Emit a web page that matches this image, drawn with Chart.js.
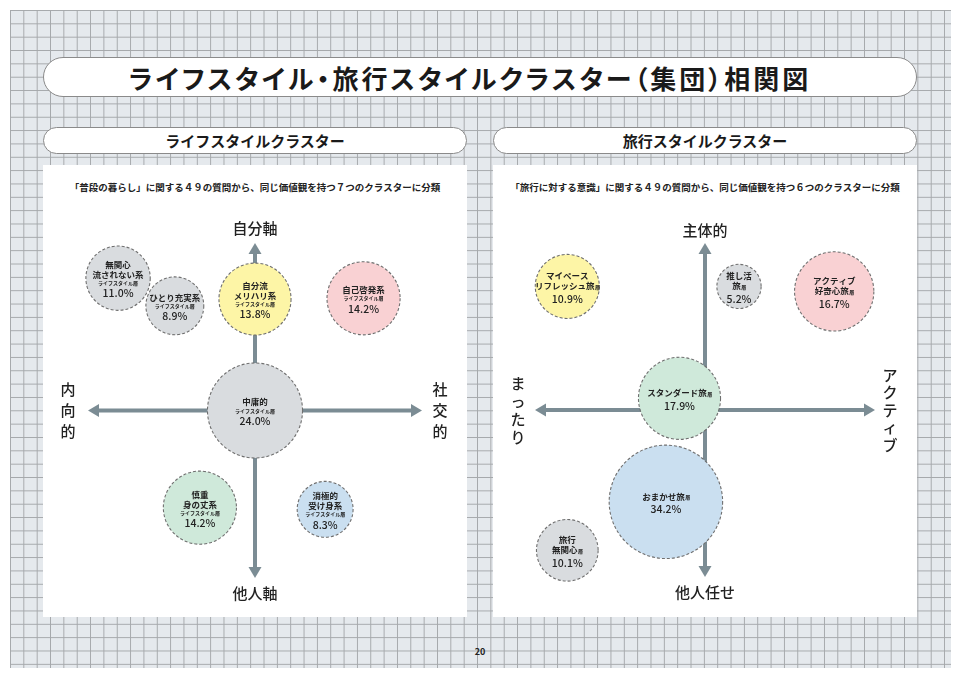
<!DOCTYPE html>
<html><head><meta charset="utf-8">
<script src="https://cdn.jsdelivr.net/npm/chart.js@4/dist/chart.umd.min.js"></script>
<style>
html,body{margin:0;padding:0;background:#fff;width:961px;height:673px;overflow:hidden;font-family:"Noto Sans CJK JP","Noto Sans",sans-serif;}
#grid{position:absolute;left:10px;top:10px;width:941px;height:658px;background-color:#e5e9ed;
background-image:linear-gradient(to right,#a5a8ab 1px,transparent 1px),linear-gradient(to bottom,#a5a8ab 1px,transparent 1px);background-size:13.35px 13.35px;}
.pill{position:absolute;background:#fff;border:1px solid #8a8a8a;border-radius:22px;display:flex;align-items:center;justify-content:center;color:#1a1a1a;box-sizing:border-box;white-space:nowrap}
.panel{position:absolute;background:#fff;}
.sub{position:absolute;font-size:9.5px;font-weight:700;color:#222;white-space:nowrap;text-align:center;line-height:12px}
.box{position:absolute;}
#pg{position:absolute;left:460px;top:645px;width:40px;text-align:center;font-size:9px;font-weight:700;color:#222}
</style></head>
<body>
<div id="grid"></div>
<div class="pill" style="left:43px;top:57px;width:874px;height:40px;font-size:26px;font-weight:700;font-feature-settings:'palt';letter-spacing:3px;padding-right:20px">ライフスタイル・旅行スタイルクラスター（集団）相関図</div>
<div class="pill" style="left:43px;top:127px;width:424px;height:27px;font-size:15px;font-weight:700">ライフスタイルクラスター</div>
<div class="pill" style="left:493px;top:127px;width:424px;height:27px;font-size:15px;font-weight:700">旅行スタイルクラスター</div>
<div class="panel" style="left:43px;top:165px;width:424px;height:452px"></div>
<div class="panel" style="left:493px;top:165px;width:424px;height:452px"></div>
<div class="sub" style="left:43px;top:181px;width:424px">「普段の暮らし」に関する４９の質問から、同じ価値観を持つ７つのクラスターに分類</div>
<div class="sub" style="left:493px;top:181px;width:424px">「旅行に対する意識」に関する４９の質問から、同じ価値観を持つ６つのクラスターに分類</div>
<div class="box" style="left:43px;top:165px;width:424px;height:452px"><canvas id="c1"></canvas></div>
<div class="box" style="left:493px;top:165px;width:424px;height:452px"><canvas id="c2"></canvas></div>
<div id="pg">20</div>
<script>
// ---- Lifestyle clusters ----
const lifeNames = [["無関心","流されない系"],["ひとり充実系"],["自分流","メリハリ系"],["自己啓発系"],["中庸的"],["慎重","身の丈系"],["消極的","受け身系"]];
const lifePct = [11.0, 8.9, 13.8, 14.2, 24.0, 14.2, 8.3];
const lifeX = [-8.2, -4.8, 0.0, 6.5, 0.0, -3.3, 4.2];
const lifeY = [7.9, 6.25, 6.65, 6.7, 0.0, -5.8, -5.9];
const lifeAxis = {top:"自分軸", bottom:"他人軸", left:"内向的", right:"社交的"};
// ---- Travel style clusters ----
const travelNames = [["マイペース","リフレッシュ旅"],["推し活","旅"],["アクティブ","好奇心旅"],["スタンダード旅"],["おまかせ旅"],["旅行","無関心"]];
const travelPct = [10.9, 5.2, 16.7, 17.9, 34.2, 10.1];
const travelX = [-8.1, 2.0, 7.6, -1.5, -2.3, -8.1];
const travelY = [7.4, 7.4, 7.1, 0.7, -5.5, -8.4];
const travelAxis = {top:"主体的", bottom:"他人任せ", left:"まったり", right:"アクティブ"};

// styles
const C = {grey:"#d9dcdf", yellow:"#fdf5a6", pink:"#f9d1d3", green:"#cfe9da", blue:"#cadff0"};
const lifeColors = [C.grey, C.grey, C.yellow, C.pink, C.grey, C.green, C.blue];
const travelColors = [C.yellow, C.grey, C.pink, C.green, C.blue, C.grey];
const FONT = '"Noto Sans CJK JP","Noto Sans",sans-serif';
const AXIS = "#7b8c94";

function arrow(ctx, x1, y1, x2, y2) {
  const a = Math.atan2(y2 - y1, x2 - x1), L = 11, W = 6.5;
  const bx = x2 - L * Math.cos(a), by = y2 - L * Math.sin(a);
  ctx.beginPath(); ctx.moveTo(x1, y1); ctx.lineTo(bx, by); ctx.stroke();
  ctx.beginPath(); ctx.moveTo(x2, y2);
  ctx.lineTo(bx + W * Math.sin(a), by - W * Math.cos(a));
  ctx.lineTo(bx - W * Math.sin(a), by + W * Math.cos(a));
  ctx.closePath(); ctx.fill();
}

const mapPlugin = {
  id: 'map',
  beforeDatasetsDraw(chart, args, o) {
    const ctx = chart.ctx, xs = chart.scales.x, ys = chart.scales.y;
    const x0 = xs.getPixelForValue(0), y0 = ys.getPixelForValue(0);
    const L = xs.getPixelForValue(-10), R = xs.getPixelForValue(10);
    const T = ys.getPixelForValue(10), B = ys.getPixelForValue(-10);
    ctx.save();
    ctx.strokeStyle = AXIS; ctx.fillStyle = AXIS; ctx.lineWidth = 4;
    arrow(ctx, x0, y0, L, y0); arrow(ctx, x0, y0, R, y0);
    arrow(ctx, x0, y0, x0, T); arrow(ctx, x0, y0, x0, B);
    ctx.fillStyle = "#222"; ctx.textAlign = "center"; ctx.textBaseline = "middle";
    ctx.font = "500 15px " + FONT;
    ctx.fillText(o.axis.top, x0, T - o.tOff);
    ctx.fillText(o.axis.bottom, x0, B + 15);
    const vert = (s, x, step) => {
      const ch = [...s], n = ch.length;
      ch.forEach((c, i) => ctx.fillText(c, x, y0 + (i - (n - 1) / 2) * step));
    };
    vert(o.axis.left, L - o.lOff, o.lStep);
    vert(o.axis.right, R + o.rOff, o.rStep);
    ctx.restore();
  },
  beforeDatasetDraw(chart) { chart.ctx.save(); chart.ctx.setLineDash([3, 2]); },
  afterDatasetDraw(chart) { chart.ctx.restore(); },
  afterDatasetsDraw(chart, args, o) {
    const ctx = chart.ctx, meta = chart.getDatasetMeta(0);
    ctx.save(); ctx.fillStyle = "#222"; ctx.textAlign = "center"; ctx.textBaseline = "middle";
    meta.data.forEach((el, i) => {
      const names = o.names[i], pct = o.pct[i];
      const rows = [];
      names.forEach((n, k) => rows.push({t: n, f: "700 8.5px " + FONT, h: 10, suf: (o.suffix && k === names.length - 1)}));
      if (o.subLine) rows.push({t: o.subLine, f: "700 5px " + FONT, h: 8.5});
      rows.push({t: pct.toFixed(1) + "%", f: "500 10.5px " + FONT, h: o.subLine ? 10 : 13});
      let tot = 0; rows.forEach((r, k) => { if (k) tot += r.h; });
      let y = el.y - tot / 2 + 1;
      rows.forEach((r, k) => {
        if (k) y += r.h;
        ctx.font = r.f;
        if (r.suf) {
          const w = ctx.measureText(r.t).width;
          ctx.fillText(r.t, el.x - 2.5, y);
          ctx.font = "700 5px " + FONT;
          ctx.textAlign = "left"; ctx.fillText(o.suffix, el.x - 2.5 + w / 2 + 0.5, y + 1); ctx.textAlign = "center";
        } else ctx.fillText(r.t, el.x, y);
      });
    });
    ctx.restore();
  }
};

function makeChart(id, xs, ys, pct, colors, pad, mapOpts) {
  const data = xs.map((x, i) => ({x: x, y: ys[i], r: 9.7 * Math.sqrt(pct[i])}));
  return new Chart(document.getElementById(id), {
    type: 'bubble',
    data: {datasets: [{data: data, backgroundColor: colors, borderColor: "#6f6f6f", borderWidth: 1.1, clip: false}]},
    options: {
      responsive: true, maintainAspectRatio: false, animation: false, events: [],
      layout: {padding: pad, autoPadding: false},
      scales: {x: {type: 'linear', min: -10, max: 10, display: false}, y: {type: 'linear', min: -10, max: 10, display: false}},
      plugins: {legend: {display: false}, tooltip: {enabled: false}, map: mapOpts}
    },
    plugins: [mapPlugin]
  });
}

makeChart('c1', lifeX, lifeY, lifePct, lifeColors, {left: 45, right: 45, top: 78, bottom: 39},
  {axis: lifeAxis, names: lifeNames, pct: lifePct, subLine: "ライフスタイル層", suffix: null, tOff: 15, lOff: 20, lStep: 21, rOff: 18, rStep: 21});
makeChart('c2', travelX, travelY, travelPct, travelColors, {left: 42, right: 42, top: 78, bottom: 40},
  {axis: travelAxis, names: travelNames, pct: travelPct, subLine: null, suffix: "層", tOff: 13, lOff: 17, lStep: 18, rOff: 15, rStep: 17.5});
</script>
</body></html>
